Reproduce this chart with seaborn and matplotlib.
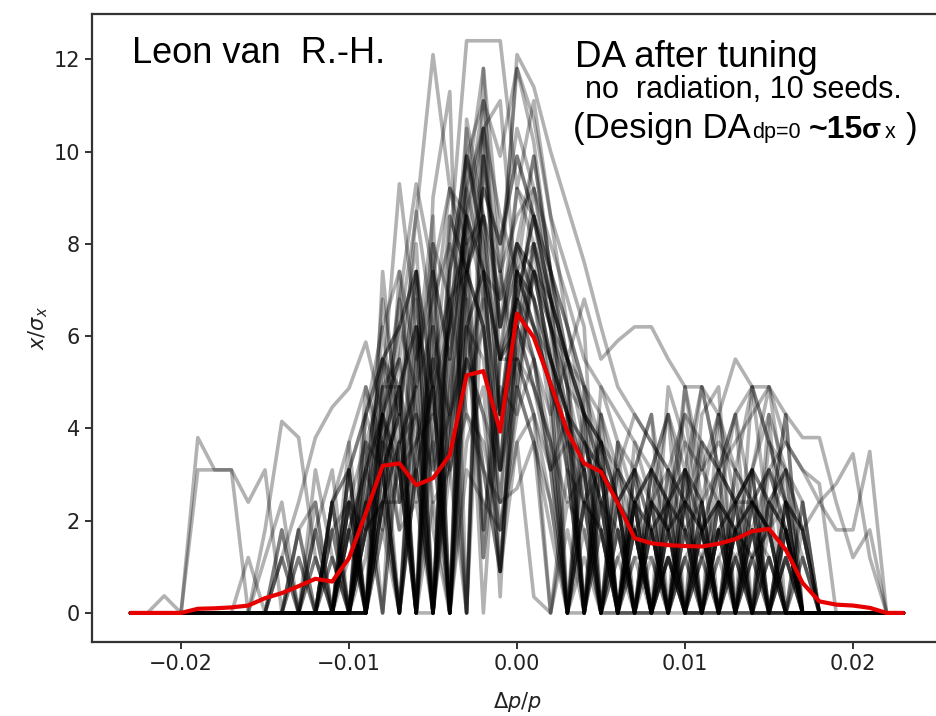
import matplotlib
matplotlib.use("Agg")
import matplotlib.pyplot as plt
import seaborn as sns
import pandas as pd

# momentum offsets (grid of the scan)
dp = [-0.023, -0.022, -0.021, -0.020, -0.019, -0.018, -0.017, -0.016, -0.015, -0.014,
      -0.013, -0.012, -0.011, -0.010, -0.009, -0.008, -0.007, -0.006, -0.005, -0.004,
      -0.003, -0.002, -0.001, 0.000, 0.001, 0.002, 0.003, 0.004, 0.005, 0.006,
      0.007, 0.008, 0.009, 0.010, 0.011, 0.012, 0.013, 0.014, 0.015, 0.016,
      0.017, 0.018, 0.019, 0.020, 0.021, 0.022, 0.023]

# mean dynamic aperture (red curve)
da_mean = [0, 0, 0, 0, 0.09, 0.10, 0.12, 0.16, 0.32, 0.43, 0.58, 0.74, 0.68, 1.19, 2.16, 3.19,
           3.24, 2.77, 2.92, 3.42, 5.15, 5.24, 3.93, 6.49, 5.97, 4.97, 3.93, 3.24, 3.06, 2.38, 1.62,
           1.51, 1.47, 1.45, 1.44, 1.50, 1.60, 1.77, 1.82, 1.37, 0.65, 0.25, 0.18, 0.16, 0.11, 0, 0]

# individual runs (grey curves)
s01 = [0,0,0.37,0,0,0,0,0,0,1.2,0,2.4,0,3.1,4.3,5.5, 6.2,8.6,12.1,9.2,7.4,6.2,3.1,8.0,9.9,7.4,4.9,3.1,0,2.4,1.8, 0,1.2,0,0,1.8,0,0,0,0,0,0,0,0,0,0,0]
s02 = [0,0,0,0,3.8,3.1,3.1,0,0,1.8,0,3.1,1.2,0,4.9,3.7, 0,6.2,4.3,7.4,9.9,8.6,4.3,7.4,8.0,6.2,4.3,2.4,3.7,0,1.8, 2.4,0,1.2,1.8,0,2.4,0,1.2,0,0,0,0,0,0,0,0]
s03 = [0,0,0,0,3.1,3.1,3.1,2.4,3.1,0,1.8,0,2.4,3.1,0,4.3, 3.1,0,7.4,5.5,8.0,10.5,11.1,6.8,8.6,6.8,5.5,4.3,3.1,2.4,3.1, 1.8,2.4,3.1,1.8,2.4,1.8,1.2,2.4,1.8,0,0,0,0,0,0,0]
s04 = [0,0,0,0,0,0,0,0,1.2,2.4,0,1.8,3.1,0,2.4,4.9, 5.5,3.7,0,8.0,12.4,12.4,12.4,9.2,11.1,8.6,6.2,4.3,3.7,2.4,0, 3.1,2.4,0,1.8,3.1,0,2.4,3.1,1.8,0,0,0,0,0,0,0]
s05 = [0,0,0,0,0,0,0,0,0,0,1.8,0,2.4,0,3.7,4.9, 4.9,0,6.2,3.1,0,11.8,4.3,6.2,9.2,6.8,3.1,0,4.3,2.4,0, 1.8,0,2.4,3.7,0,1.8,3.1,0,2.4,0,0,0,0,0,0,0]
s06 = [0,0,0,0,0,0,0,0,0,0,0,0,0,1.8,0,2.4, 3.7,4.3,3.1,6.2,8.6,7.4,6.8,12.1,11.4,10.0,8.8,7.6,6.2,4.9,4.3, 3.7,3.1,2.4,3.1,2.4,1.8,1.2,1.8,2.4,1.2,0,0,0,0,0,0]
s07 = [0,0,0,0,0,0,0,0,0,0,0,0,1.2,0,2.4,3.1, 0,3.7,4.9,0,6.2,7.4,5.5,5.5,7.4,6.8,5.5,4.3,3.7,3.1,4.3, 3.7,3.1,4.3,3.7,3.1,3.7,4.3,4.9,3.7,3.1,2.4,2.8,3.45,1.2,0,0]
s08 = [0,0,0,0,0,0,0,0,0,0,0,1.2,0,0,1.8,6.2, 3.1,0,5.5,6.8,7.4,9.2,8.0,9.9,8.6,7.4,5.5,6.8,5.5,5.9,6.2, 6.2,5.5,4.9,4.9,4.3,5.5,4.9,4.9,4.3,3.8,3.8,2.4,1.2,1.8,0,0]
s09 = [0,0,0,0,0,0,0,0,1.8,4.15,3.8,1.2,0,2.4,0,3.1, 4.3,0,3.7,6.2,10.5,7.4,5.5,6.2,8.0,4.9,0,3.1,1.8,0,2.4, 0,1.8,0,2.4,0,1.2,0,0,0,0,0,0,0,0,0,0]
s10 = [0,0,0,0,0,0,0,0,0,1.2,2.4,3.8,4.46,4.87,5.87,4.3, 6.8,9.3,7.4,5.5,8.6,11.1,9.9,11.8,10.2,7.4,5.5,4.3,3.1,0,2.4, 1.8,0,1.2,0,2.4,0,1.8,0,1.2,0,0,0,0,0,0,0]
s11 = [0,0,0,0,0,0,0,1.2,0,1.8,0,0,2.4,0,0,3.1, 0,4.9,0,3.7,7.4,1.2,4.3,6.8,5.5,3.1,0,2.4,0,1.8,0, 2.4,0,1.8,0,3.1,0,2.4,0,1.8,0,0,0,0,0,0,0]
s12 = [0,0,0,0,0,0,0,0,0,0,1.2,0,1.8,0,3.7,3.1, 4.3,7.4,4.9,0,6.2,3.1,0.9,5.5,4.3,0,3.1,0,2.4,0,1.8, 0,2.4,0,1.2,0,3.1,0,2.4,0,1.8,0,0,0,0,0,0]
s13 = [0,0,0,0,0,0,0,0,0,0,0,1.8,0,2.4,0,3.1, 6.8,4.3,0,5.5,8.6,6.8,0.35,7.4,6.2,4.9,3.7,0,3.1,0,2.4, 0,1.8,0,0,1.2,0,1.8,0,2.4,0,0,0,0,0,0,0]
s14 = [0,0,0,0,0,0,0,0,0,0,0,0,0,1.8,3.1,5.5, 4.9,6.2,0,7.4,9.9,8.0,0.9,6.2,5.5,3.1,4.3,3.1,0,3.7,2.4, 0,3.1,2.4,0,1.8,2.4,0,3.1,1.8,0,0,0,0,0,0,0]
s15 = [0,0,0,0,0,0,0,0,0,0,0,0,1.2,0,2.4,0, 3.7,0,8.0,0,10.7,8.6,4.3,7.4,9.9,7.4,0,4.9,3.1,0,3.7, 2.4,0,3.1,1.8,0,2.4,3.1,0,1.8,0,0,0,0,0,0,0]
s16 = [0,0,0,0,0,0,0,0,0,0,0,0,0,0,1.8,4.3, 3.1,0,9.0,11.3,0,9.9,6.2,8.0,7.4,6.2,4.9,0,3.7,2.4,0, 3.1,1.8,0,2.4,0,1.8,0,3.7,2.4,0,0,0,0,0,0,0]
s17 = [0,0,0,0,0,0,0,0,0,0,0,0,2.4,3.7,0,4.9, 9.3,6.2,4.9,0,7.4,6.2,3.1,6.8,6.2,4.9,3.1,2.4,0,1.8,0, 2.4,1.8,0,1.2,2.4,0,1.8,1.2,0,0,0,0,0,0,0,0]
s18 = [0,0,0,0,0,0,0,0,0,0,0,0,0,0,2.4,6.8, 4.3,8.7,6.2,0,9.2,10.5,5.5,6.8,8.6,6.8,5.5,0,4.3,0,3.1, 0,2.4,3.1,0,1.8,0,2.4,1.8,3.1,0,0,0,0,0,0,0]
s19 = [0,0,0,0,0,0,0,0,0,0,0,0,0,0,0,2.4, 0,3.1,4.9,0,6.2,7.4,4.3,6.8,5.5,4.3,0,3.7,2.4,0,3.1, 0,2.4,3.7,3.1,3.7,3.1,2.4,3.1,3.7,3.1,2.8,0,0,0,0,0]
s20 = [0,0,0,0,0,0,0,0,0,0,0,0,0,1.8,0,3.7, 3.1,0,0,4.3,9.2,7.4,3.1,4.9,7.4,5.5,4.3,0,1.8,0,2.4, 0,1.2,0,1.8,0,1.2,0,1.8,0,2.4,0,0,0,0,0,0]
s21 = [0,0,0,0,0,0,0,0,0,0,0,0,0,0,1.8,2.4, 4.9,3.1,0,5.5,0,9.9,7.4,11.8,10.7,8.6,7.4,6.2,0,3.1,1.8, 0,1.8,0,2.4,0,1.8,2.4,0,1.2,0,0,0,0,0,0,0]
s22 = [0,0,0,0,0,0,0,0,0,0,0,0,0,0,0,2.4, 2.4,6.8,3.7,0,4.9,6.2,2.4,6.2,4.9,3.7,0,2.4,3.1,0,1.8, 0,3.1,1.8,0,2.4,0,3.1,2.4,1.8,0,0,0,0,0,0,0]
s23 = [0,0,0,0,0,0,0,0,0,0,1.8,2.4,0,3.1,0,7.4, 3.7,4.9,0,6.8,8.0,1.8,4.9,4.3,8.0,6.2,0,3.7,2.4,1.8,0, 2.4,3.1,0,1.8,2.4,0,1.8,0,2.4,1.8,0,0,0,0,0,0]
s24 = [0,0,0,0,0,0,0,0,0,0,0,0,0,0,3.1,4.3, 0,5.5,7.4,0,8.6,10.5,6.2,7.4,6.8,5.5,3.1,0,4.9,3.7,0, 3.1,2.4,0,3.7,3.1,2.4,0,2.4,3.1,0,0,0,0,0,0,0]
s25 = [0,0,0,0,0,0,0,0,0,0,0,0,0,0,1.2,4.3, 2.4,3.1,0,4.3,6.2,5.5,2.4,7.4,6.2,4.9,3.7,3.1,0,2.4,3.1, 1.8,0,2.4,1.8,3.1,2.4,1.8,3.1,2.4,1.8,2.4,1.8,1.8,3.5,0,0]
s26 = [0,0,0,0,0,0,0,0,0,0,0,0,0,0,3.1,1.8, 7.4,2.4,3.7,0,5.5,4.3,0.9,4.9,3.7,2.4,0,1.8,0,1.2,0, 1.8,0,2.4,0,1.8,0,1.2,0,1.8,0,0,0,0,0,0,0]
s27 = [0,0,0,0,0,0,0,0,0,1.2,0,0,1.8,2.4,0,3.7, 4.9,0,6.2,4.3,0,7.4,5.5,6.8,8.6,7.4,6.2,4.9,3.7,0,2.4, 1.8,0,3.1,0,2.4,1.8,0,1.2,0,0,0,0,0,0,0,0]
s28 = [0,0,0,0,0,0,0,0,0,0,0,0,0,0,0,1.8, 3.1,4.3,0,3.7,6.8,1.8,5.5,8.0,6.8,4.3,5.5,3.7,2.4,0,3.1, 2.4,1.8,3.1,2.4,0,3.1,2.4,1.8,0,2.4,0,0,0,0,0,0]
s29 = [0,0,0,0,0,0,0,0,0,0,0,0,0,0,0,4.3, 1.8,6.2,2.4,3.1,4.3,3.7,1.8,4.9,3.7,0,2.4,1.8,0,1.2,1.8, 0,1.2,0,0,1.8,1.2,0,0,1.2,0,0,0,0,0,0,0]
s30 = [0,0,0,0,0,0,0,0,0,0,0,0,0,2.4,1.8,3.1, 0,3.7,5.5,0,7.4,9.2,8.0,10.5,9.2,8.0,6.8,5.5,4.9,4.3,3.7, 3.1,2.4,1.8,2.4,3.1,2.4,3.1,2.4,3.1,1.8,0,0,0,0,0,0]
s31 = [0,0,0,0,0,0,0,0,0,0,0,0,0,0,1.8,4.3, 5.5,8.0,1.8,0,3.7,4.9,0.9,6.2,4.9,3.1,0,2.4,0,0,1.2, 0,0,1.8,0,0,0,1.2,0,0,0,0,0,0,0,0,0]
s32 = [0,0,0,0,0,0,0,0,0,0,0,0,0,0,0,2.4, 3.7,0,4.3,6.2,8.6,1.2,7.4,4.9,7.4,5.5,4.3,0,3.1,2.4,0, 1.8,2.4,1.8,0,1.2,1.8,2.4,1.8,0,1.2,0,0,0,0,0,0]
s33 = [0,0,0,0,0,0,0,0,0,0,0,0,0,0,0,2.4, 4.9,0,2.4,0,3.1,2.4,1.8,3.7,0.35,0,1.8,0,2.4,0,0, 1.2,0,0,1.2,0,0,0,0,0,0,0,0,0,0,0,0]
s34 = [0,0,0,0,0,0,0,0,0,0,0,0,0,0,0,1.8, 0,3.1,0,4.9,7.4,8.6,7.4,5.5,8.0,6.8,4.9,4.3,0,3.1,2.4, 3.1,0,2.4,1.8,0,2.4,3.1,0,2.4,0,0,0,0,0,0,0]
s35 = [0,0,0,0,0,0,0,0,0,0,0,0,0,0,3.1,5.5, 6.2,7.4,0,3.1,5.5,4.3,3.1,5.5,4.9,3.7,0,0,1.8,0,0, 0,1.2,0,0,0,1.8,0,0,0,0,0,0,0,0,0,0]
s36 = [0,0,0,0,0,0,0,0,0,0,0,0,0,2.4,0,3.7, 1.8,2.4,0,6.8,4.3,3.1,2.4,2.7,3.7,1.8,0,1.2,0,0,0, 0,0,1.2,0,0,0,0,1.2,0,0,0,0,0,0,0,0]
s37 = [0,0,0,0,0,0,0,0,0,0,0,1.8,0,3.1,4.3,6.2, 7.4,5.5,8.6,0,9.9,11.1,7.4,8.6,9.2,7.4,6.2,4.9,0,3.7,3.1, 4.3,0,4.9,3.1,4.3,0,4.9,3.7,2.4,0,0,0,0,0,0,0]
s38 = [0,0,0,0,0,0,0,0,0,0,1.2,0,2.4,3.1,0,5.5, 4.3,7.4,0,8.6,7.4,9.9,6.2,9.2,8.0,6.2,4.3,3.7,3.1,0,2.4, 3.1,4.3,2.4,4.9,3.1,4.3,0,4.3,3.1,1.8,0,0,0,0,0,0]
s39 = [0,0,0,0,0,0,0,0,0,0,0,0,0,2.4,3.7,0, 6.2,4.9,8.0,6.8,0,10.5,8.6,7.4,6.8,4.9,0,4.3,3.7,2.4,0, 2.4,4.3,0,4.3,4.9,0,3.1,4.3,0,1.2,0,0,0,0,0,0]
s40 = [0,0,0,0,0,0,0,0,0,0,0,0,1.8,0,4.3,3.1, 0,5.5,6.8,8.0,6.8,0,5.5,6.2,7.4,5.5,3.7,0,2.4,3.1,0, 1.8,0,3.1,2.4,0,1.8,2.4,0,1.8,0,0,0,0,0,0,0]
s41 = [0,0,0,0,0,0,0,0,0,0,0,0,0,0,2.4,4.3, 5.5,0,7.4,9.2,8.6,7.4,3.1,7.4,6.2,5.5,4.3,3.1,3.7,0,2.4, 0,4.9,3.7,0,4.3,3.1,4.9,1.8,4.3,0,0,0,0,0,0,0]
s42 = [0,0,0,0,0,0,0,0,0,0,0,1.2,0,1.8,0,3.7, 4.9,6.2,0,7.4,9.2,11.8,8.0,9.9,8.6,6.8,5.5,4.3,0,2.4,3.1, 4.3,1.8,4.9,2.4,4.3,2.4,3.1,4.9,2.4,1.8,0,0,0,0,0,0]
s43 = [0,0,0,0,0,0,0,0,0,0,0,0,0,3.7,4.9,3.1, 4.3,0,5.5,4.3,7.4,6.2,1.8,4.3,5.5,3.7,2.4,3.1,0,1.8,0, 0,1.8,2.4,1.8,0,1.8,0,2.4,1.8,0,0,0,0,0,0,0]
s44 = [0,0,0,0,0,0,0,0,0,0,0,0,0,1.2,2.4,0, 3.7,4.9,6.2,9.2,8.0,8.6,6.8,8.0,7.4,6.2,4.9,0,3.1,2.4,1.8, 0,2.4,4.3,1.8,2.4,4.3,2.4,1.8,4.3,0,0,0,0,0,0,0]
s45 = [0,0,0,0,0,0,0,0,0,0,0,0,2.4,0,4.3,5.5, 3.1,3.7,4.3,3.1,5.5,6.8,4.3,5.5,4.3,3.1,3.7,2.4,1.8,0,1.2, 1.2,0,1.8,1.2,1.8,0,1.2,1.8,0,0,0,0,0,0,0,0]
s46 = [0,0,0,0,0,0,0,0,0,0,0,0,0,0,1.8,2.4, 0,3.1,4.9,6.2,9.9,8.0,5.5,9.2,8.6,6.2,5.5,4.9,4.3,3.1,2.4, 3.1,4.3,3.1,4.9,3.1,4.3,4.9,3.7,3.1,2.4,0,0,0,0,0,0]
s47 = [0,0,0,0,0,0,0,0,0,0,0,0,0,3.1,0,4.9, 2.4,7.4,3.1,4.3,5.5,3.1,0.9,3.7,4.3,2.4,0,2.4,1.8,0,1.8, 0,1.2,0,1.8,0,1.2,1.8,0,1.2,0,0,0,0,0,0,0]
s48 = [0,0,0,0,0,0,0,0,0,0,0,0,0,1.8,3.1,4.3, 6.2,7.4,4.9,8.6,7.4,8.6,6.2,8.0,6.8,5.5,4.3,3.7,3.1,2.4,0, 2.4,1.8,2.4,0,1.8,2.4,2.4,1.8,0,0,0,0,0,0,0,0]

runs = [s01, s02, s03, s04, s05, s06, s07, s08, s09, s10, s11, s12,
        s13, s14, s15, s16, s17, s18, s19, s20, s21, s22, s23, s24,
        s25, s26, s27, s28, s29, s30, s31, s32, s33, s34, s35, s36,
        s37, s38, s39, s40, s41, s42, s43, s44, s45, s46, s47, s48]

for k, r in enumerate(runs):
    if len(r) != len(dp):
        raise ValueError(f"run {k+1} has {len(r)} values")

rows = []
for k, r in enumerate(runs):
    for x, y in zip(dp, r):
        rows.append({"run": k, "dp": x, "da": y})
df = pd.DataFrame(rows)

sns.set_theme(style="ticks")
plt.rcParams["font.family"] = ["DejaVu Sans"]
plt.rcParams["mathtext.fontset"] = "dejavusans"

fig = plt.figure(figsize=(9.36, 7.16), dpi=100)
ax = fig.add_axes([92 / 936, (716 - 642) / 716, 850 / 936, 628 / 716])

sns.lineplot(data=df, x="dp", y="da", units="run", estimator=None,
             color="black", alpha=0.3, linewidth=2.6, ax=ax, legend=False)
sns.lineplot(x=dp, y=da_mean, color="#e60000", linewidth=3.0, ax=ax, zorder=5)

ax.set_xlim(-0.0253, 0.0253)
ax.set_ylim(-0.63, 12.98)
ax.set_xticks([-0.02, -0.01, 0.0, 0.01, 0.02])
ax.set_yticks([0, 2, 4, 6, 8, 10, 12])
ax.set_xlabel(r"$\Delta p/p$", fontsize=15, color="#222222", labelpad=12)
ax.set_ylabel(r"$x/\sigma_x$", fontsize=15, color="#222222", labelpad=3)
ax.tick_params(axis="both", labelsize=15, length=5, width=1.3,
               colors="#222222", direction="out")
for sp in ax.spines.values():
    sp.set_visible(True)
    sp.set_linewidth(1.6)
    sp.set_color("#333333")


def ptext(x, y, s, size, weight="normal"):
    fig.text(x / 936, 1 - y / 716, s, fontsize=size, fontweight=weight,
             family=["Liberation Sans", "DejaVu Sans"], va="baseline", ha="left",
             color="black")


ptext(132, 63, "Leon van  R.-H.", 26)
ptext(575, 67, "DA after tuning", 26.5)
ptext(585, 98, "no  radiation, 10 seeds.", 22)
ptext(573, 138, "(Design DA", 25)
ptext(752, 138, "dp=0", 15.5)
ptext(809, 138, "~15", 23, "bold")
ptext(862, 138, "σ", 20, "bold")
ptext(885, 138, "x", 15.5)
ptext(906, 138, ")", 25)

fig.savefig("out.png", dpi=100)
